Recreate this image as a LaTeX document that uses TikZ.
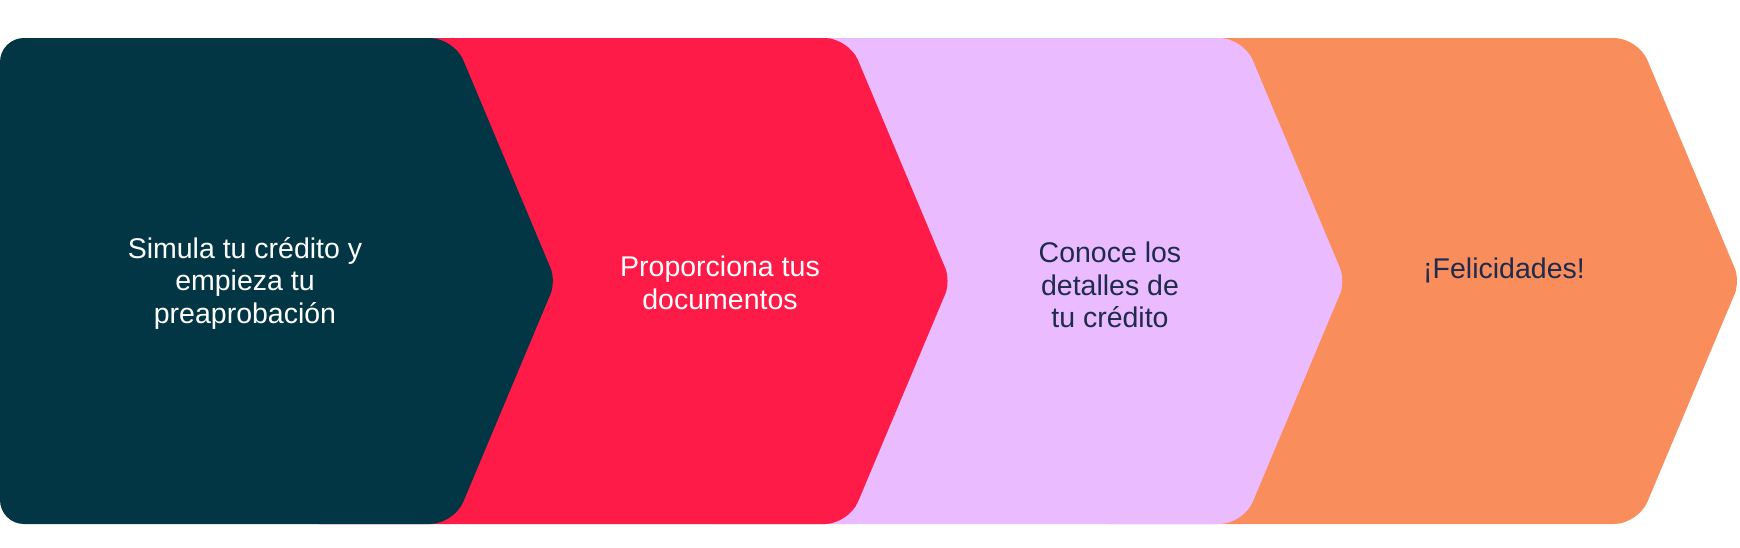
\documentclass[tikz,border=0pt]{standalone}
\usepackage{fontspec}
\setmainfont{Liberation Sans}
\definecolor{cDk}{HTML}{023645}
\definecolor{cRe}{HTML}{FF1B47}
\definecolor{cLa}{HTML}{EBBBFF}
\definecolor{cOr}{HTML}{F98D5C}
\definecolor{cNv}{HTML}{1E2B4D}
\begin{document}
\begin{tikzpicture}[x=1pt,y=-1pt,
  chev/.style={rounded corners=24pt},
  lbl/.style={font=\fontsize{28.5}{32.5}\selectfont, align=center, inner sep=0pt}]
\useasboundingbox (0,0) rectangle (1740,547);
\foreach \dx/\col in {1184.1/cOr, 789.4/cLa, 394.7/cRe} {
  \fill[\col, chev] (\dx-100,281) -- (\dx-100,38) -- (\dx+454,38)
     [rounded corners=14pt] -- (\dx+556,281)
     [rounded corners=24pt] -- (\dx+454,524) -- (\dx-100,524) -- cycle;
}
\fill[cDk, chev] (0,281) -- (0,38) -- (454,38)
     [rounded corners=14pt] -- (556,281)
     [rounded corners=24pt] -- (454,524) -- (0,524) -- cycle;
\node[lbl, text=white] (t1) at (245,283) {Simula tu crédito y\\empieza tu\\preaprobación};
\node[lbl, text=white] (t2) at (720,283) {Proporciona tus\\documentos};
\node[lbl, text=cNv] (t3) at (1110,285) {Conoce los\\detalles de\\tu crédito};
\node[lbl, text=cNv] (t4) at (1504,270) {¡Felicidades!};
\end{tikzpicture}
\end{document}
